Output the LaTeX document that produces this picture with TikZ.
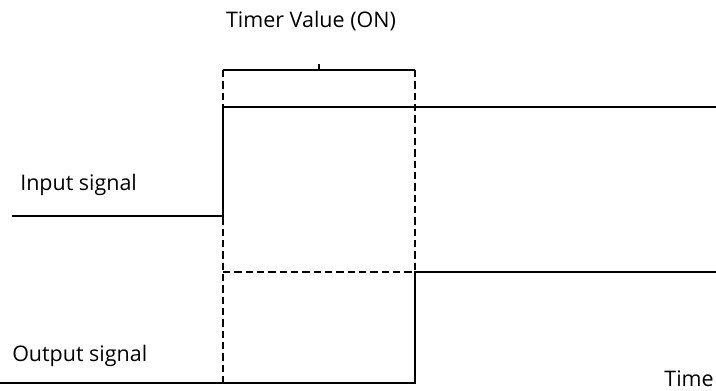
\documentclass[tikz,border=0pt]{standalone}
\usepackage{fontspec}
\setmainfont{Open Sans}
\begin{document}
\begin{tikzpicture}[x=.75pt,y=-.75pt,sig/.style={line width=1.3pt},guide/.style={dash pattern=on 5.5pt off 3pt,line width=1pt},lbl/.style={font=\fontsize{16.1}{19}\selectfont,inner sep=0pt}]
\useasboundingbox (0,0) rectangle (716,391);
% signals
\coordinate (i0) at (12,216);\coordinate (i1) at (223,216);\coordinate (i2) at (223,107);\coordinate (i3) at (716,107);
\coordinate (o0) at (0,383);\coordinate (o1) at (415,383);\coordinate (o2) at (415,272);\coordinate (o3) at (716,272);
\draw[sig] (i0)--(i1)--(i2)--(i3);
\draw[sig] (o0)--(o1)--(o2)--(o3);
% timer bracket
\coordinate (b0) at (223,70);\coordinate (b1) at (415,70);\coordinate (bm) at (319,70);\coordinate (bt) at (319,64);
\draw[sig] (b0)--(b1);\draw[sig] (bm)--(bt);
\draw[guide] (b0)--(223,383);\draw[guide] (b1)--(o2);\draw[guide] (223,272)--(o2);
\node[lbl] (tv) at (311,21) {Timer Value (ON)};
\node[lbl,anchor=west] (in) at (20,185) {Input signal};
\node[lbl,anchor=west] (out) at (12,356) {Output signal};
\node[lbl,anchor=east] (tm) at (714,379) {Time};
\end{tikzpicture}
\end{document}
